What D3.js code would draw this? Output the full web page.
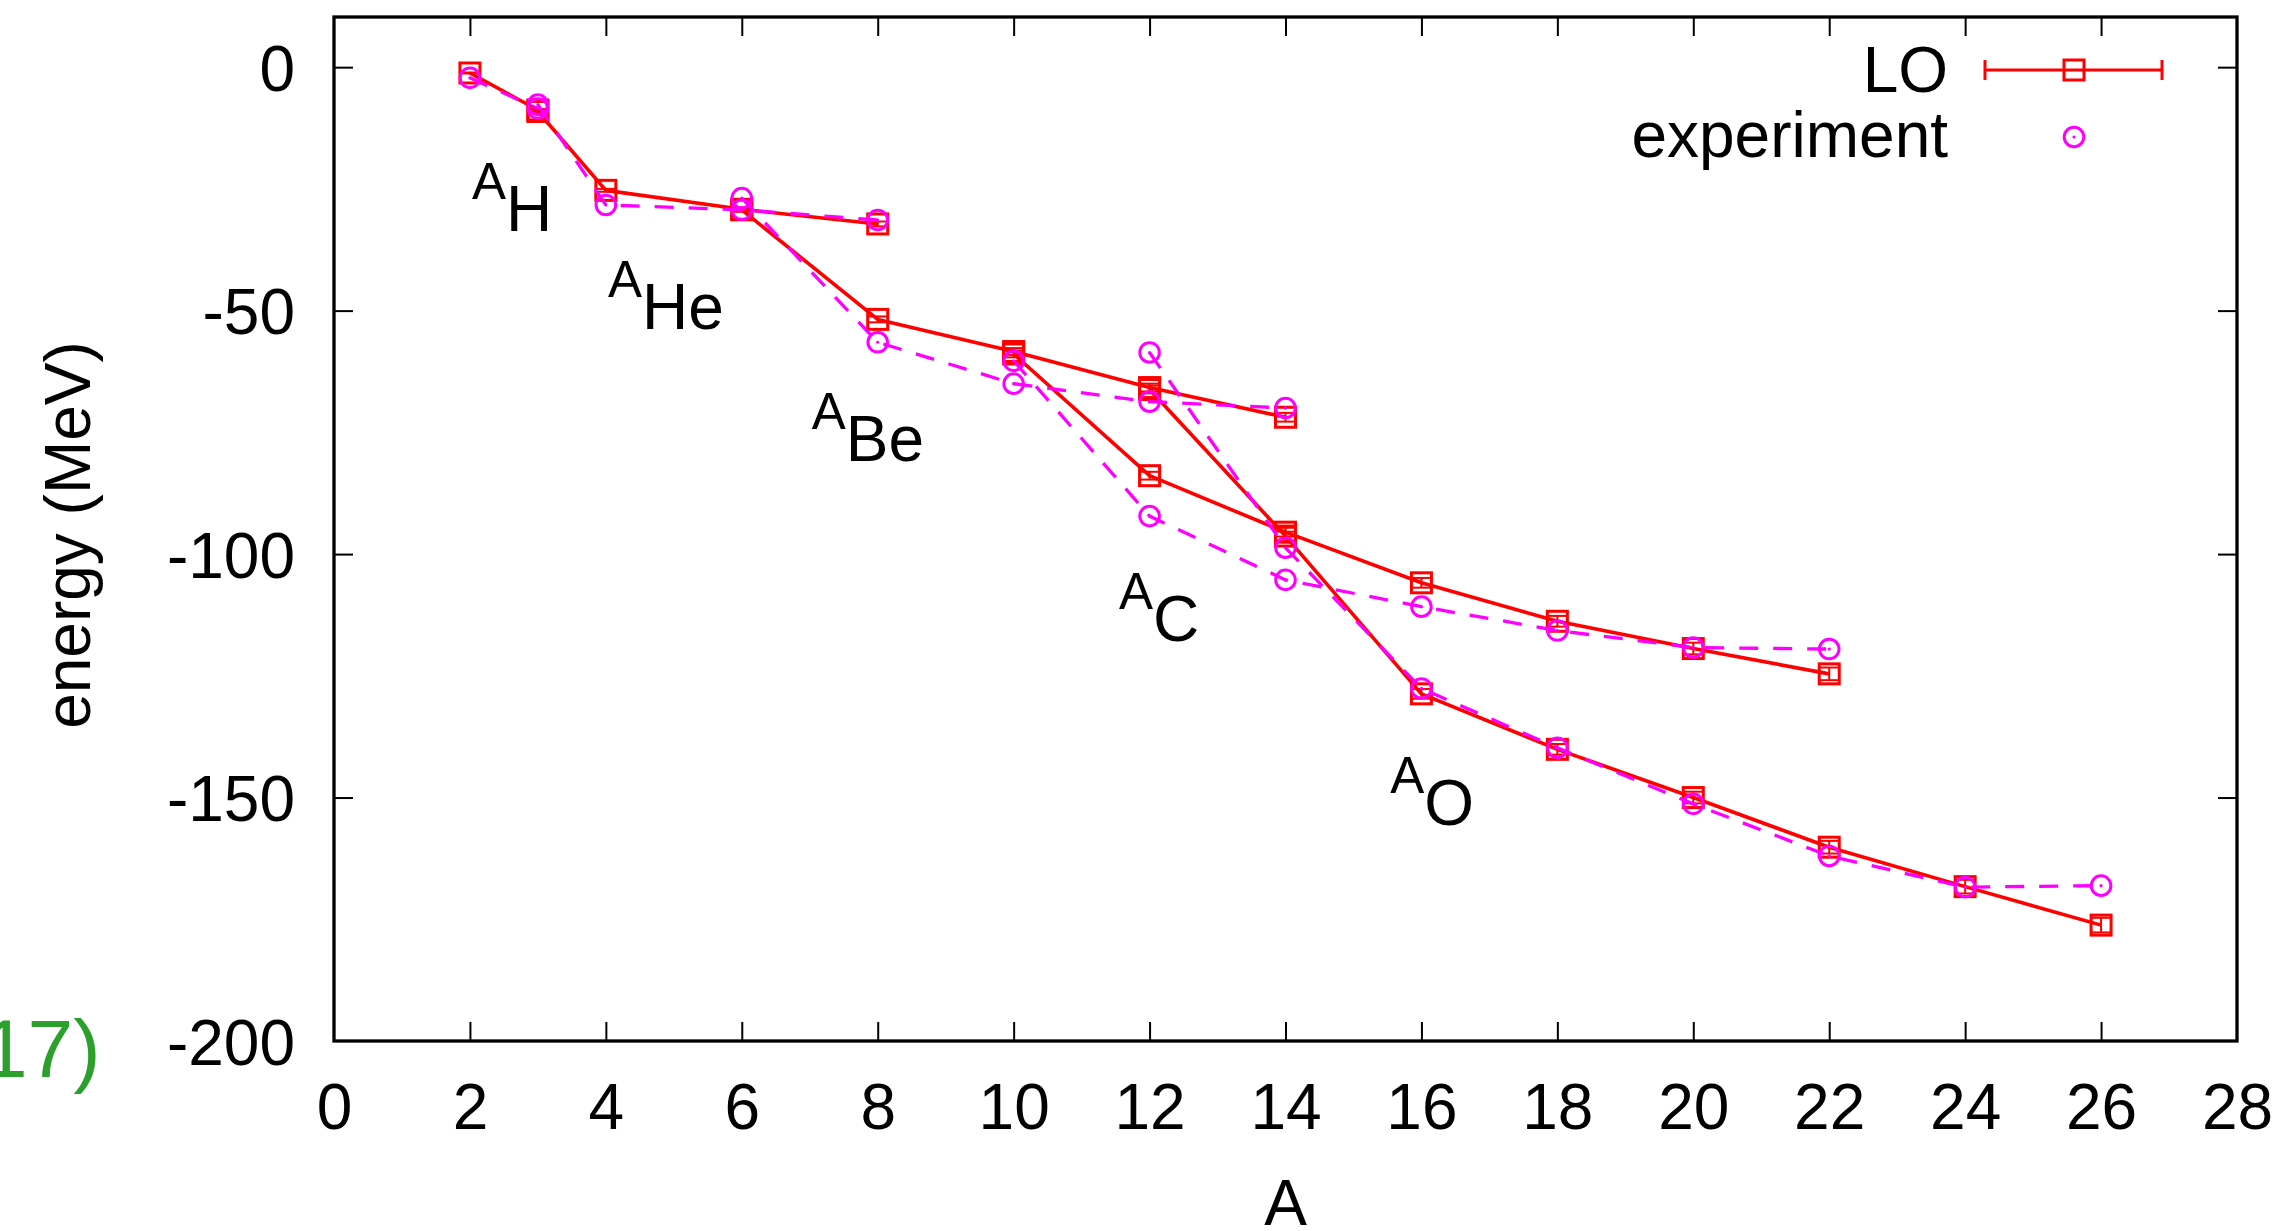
<!DOCTYPE html>
<html>
<head>
<meta charset="utf-8">
<script src="https://cdn.jsdelivr.net/npm/d3@7"></script>
<style>
  html, body { margin: 0; padding: 0; background: #fff; }
  svg { display: block; font-family: "Liberation Sans", Arial, Helvetica, sans-serif; }
</style>
</head>
<body>
<svg id="chart" width="2280" height="1231"></svg>
<script>
// Isotope chains: mass number A and ground-state energies (MeV)
const chainNames = ["H", "He", "Be", "C", "O"];
const chainMass = [
  [2, 3],
  [3, 4, 6, 8],
  [6, 8, 10, 12, 14],
  [10, 12, 14, 16, 18, 20, 22],
  [12, 14, 16, 18, 20, 22, 24, 26]
];
// Lattice results at leading order
const loEnergy = [
  [-1.2, -8.8],
  [-9.1, -25.3, -29.2, -32.2],
  [-29.3, -51.8, -58.4, -65.8, -71.9],
  [-58.9, -83.9, -95.5, -105.9, -113.8, -119.4, -124.6],
  [-66.2, -96.3, -128.7, -140.1, -150.0, -160.2, -168.3, -176.2]
];
const loError = [
  [0.1, 0.2],
  [0.2, 0.3, 0.4, 0.5],
  [0.4, 0.6, 0.7, 0.8, 0.9],
  [0.7, 0.8, 0.9, 1.0, 1.1, 1.2, 1.3],
  [0.8, 0.9, 1.0, 1.1, 1.2, 1.3, 1.4, 1.5]
];
// Measured binding energies
const expEnergy = [
  [-2.2, -8.5],
  [-7.7, -28.3, -29.3, -31.4],
  [-26.9, -56.5, -65.0, -68.7, -70.0],
  [-60.3, -92.2, -105.3, -110.8, -115.7, -119.2, -119.5],
  [-58.6, -98.7, -127.6, -139.8, -151.3, -162.0, -168.4, -168.1]
];
const xTickValues = [0, 2, 4, 6, 8, 10, 12, 14, 16, 18, 20, 22, 24, 26, 28];
const yTickValues = [0, -50, -100, -150, -200];
const yTickLabels = ["0", "-50", "-100", "-150", "-200"];
const seriesNames = ["LO", "experiment"];

// Layout
const frame = { left: 334, right: 2237, top: 17, bottom: 1041 };
const tickLen = 19;
const fontSize = 64;
const supSize = 51;
const redColor = "#ff0000";
const magenta = "#ff00ff";
// chain label anchors in data coordinates (A, energy)
const labelAnchor = [[2.03, -33.6], [4.03, -53.7], [7.03, -80.8], [11.55, -117.9], [15.54, -155.7]];

const svg = d3.select("#chart");

const x = d3.scaleLinear().domain([0, 28]).range([frame.left, frame.right]);
const y = d3.scaleLinear().domain([-200, 10.3]).range([frame.bottom, frame.top]);

// Axes with inward ticks on all four sides
const gB = svg.append("g").attr("transform", `translate(0,${frame.bottom})`)
  .call(d3.axisBottom(x).tickValues(xTickValues).tickSize(-tickLen).tickSizeOuter(0).tickFormat(d => String(d)));
const gT = svg.append("g").attr("transform", `translate(0,${frame.top})`)
  .call(d3.axisTop(x).tickValues(xTickValues).tickSize(-tickLen).tickSizeOuter(0).tickFormat(""));
const gL = svg.append("g").attr("transform", `translate(${frame.left},0)`)
  .call(d3.axisLeft(y).tickValues(yTickValues).tickSize(-tickLen).tickSizeOuter(0)
    .tickFormat((d, i) => yTickLabels[i]));
const gR = svg.append("g").attr("transform", `translate(${frame.right},0)`)
  .call(d3.axisRight(y).tickValues(yTickValues).tickSize(-tickLen).tickSizeOuter(0).tickFormat(""));

[gB, gT, gL, gR].forEach(g => {
  g.select(".domain").remove();
  g.selectAll(".tick line").attr("stroke", "#000").attr("stroke-width", 2);
  g.selectAll(".tick text").attr("fill", "#000").attr("font-size", fontSize)
    .attr("font-family", "'Liberation Sans', Arial, Helvetica, sans-serif");
});
gB.selectAll(".tick text").attr("y", 88).attr("dy", null);
gL.selectAll(".tick text").attr("x", -39).attr("dy", "0.36em");
// hide the tick marks that coincide with the frame corners
gB.selectAll(".tick").filter(d => d === 0 || d === 28).select("line").remove();
gT.selectAll(".tick").filter(d => d === 0 || d === 28).select("line").remove();
gL.selectAll(".tick").filter(d => d === -200).select("line").remove();
gR.selectAll(".tick").filter(d => d === -200).select("line").remove();

// Plot frame
svg.append("rect")
  .attr("x", frame.left).attr("y", frame.top)
  .attr("width", frame.right - frame.left).attr("height", frame.bottom - frame.top)
  .attr("fill", "none").attr("stroke", "#000").attr("stroke-width", 3.3);

// Axis titles
svg.append("text")
  .attr("x", (frame.left + frame.right) / 2).attr("y", 1225)
  .attr("text-anchor", "middle").attr("font-size", fontSize).text("A");
svg.append("text")
  .attr("transform", `translate(90,535) rotate(-90)`)
  .attr("text-anchor", "middle").attr("font-size", fontSize).text("energy (MeV)");

// Fragment of a neighbouring caption on the left margin
svg.append("text")
  .attr("x", -18).attr("y", 1077).attr("font-size", 82).attr("fill", "#2ca02c").text("17)");

// Chain labels  ^A X
chainNames.forEach((name, i) => {
  const t = svg.append("text")
    .attr("x", x(labelAnchor[i][0])).attr("y", y(labelAnchor[i][1]))
    .attr("fill", "#000");
  t.append("tspan").attr("font-size", supSize).attr("dy", -32).text("A");
  t.append("tspan").attr("font-size", fontSize).attr("dy", 32).text(name);
});

const line = d3.line().x(d => x(d[0])).y(d => y(d[1]));
const plot = svg.append("g");

const sq = 20, capW = 20, circR = 9.8;

// Leading-order chains: solid lines, squares, error bars
chainMass.forEach((masses, i) => {
  const pts = masses.map((a, j) => [a, loEnergy[i][j], loError[i][j]]);
  plot.append("path").datum(pts).attr("d", line)
    .attr("fill", "none").attr("stroke", redColor).attr("stroke-width", 3.6)
    .attr("stroke-linejoin", "round");
  const g = plot.append("g").selectAll("g").data(pts).join("g");
  g.append("rect")
    .attr("x", d => x(d[0]) - sq / 2).attr("y", d => y(d[1]) - sq / 2)
    .attr("width", sq).attr("height", sq)
    .attr("fill", "none").attr("stroke", redColor).attr("stroke-width", 3);
  g.append("line")
    .attr("x1", d => x(d[0])).attr("x2", d => x(d[0]))
    .attr("y1", d => y(d[1] + d[2])).attr("y2", d => y(d[1] - d[2]))
    .attr("stroke", redColor).attr("stroke-width", 2);
  [1, -1].forEach(s => {
    g.append("line")
      .attr("x1", d => x(d[0]) - capW / 2).attr("x2", d => x(d[0]) + capW / 2)
      .attr("y1", d => y(d[1] + s * d[2])).attr("y2", d => y(d[1] + s * d[2]))
      .attr("stroke", redColor).attr("stroke-width", 2);
  });
});

// Experimental chains: dashed lines and dotted circles
chainMass.forEach((masses, i) => {
  const pts = masses.map((a, j) => [a, expEnergy[i][j]]);
  plot.append("path").datum(pts).attr("d", line)
    .attr("fill", "none").attr("stroke", magenta).attr("stroke-width", 3.3)
    .attr("stroke-dasharray", "19,15");
  const g = plot.append("g").selectAll("g").data(pts).join("g");
  g.append("circle")
    .attr("cx", d => x(d[0])).attr("cy", d => y(d[1])).attr("r", circR)
    .attr("fill", "none").attr("stroke", magenta).attr("stroke-width", 3);
  g.append("circle")
    .attr("cx", d => x(d[0])).attr("cy", d => y(d[1])).attr("r", 1.6)
    .attr("fill", magenta);
});

// Legend
const legend = svg.append("g");
const keyX0 = 1985, keyX1 = 2162, keyXc = 2074;
legend.append("text").attr("x", 1948).attr("y", 92).attr("text-anchor", "end")
  .attr("font-size", fontSize).text(seriesNames[0]);
legend.append("text").attr("x", 1948).attr("y", 157).attr("text-anchor", "end")
  .attr("font-size", fontSize).text(seriesNames[1]);
legend.append("line").attr("x1", keyX0).attr("x2", keyX1).attr("y1", 70).attr("y2", 70)
  .attr("stroke", redColor).attr("stroke-width", 3);
[keyX0, keyX1].forEach(cx => legend.append("line")
  .attr("x1", cx).attr("x2", cx).attr("y1", 60).attr("y2", 80)
  .attr("stroke", redColor).attr("stroke-width", 3));
legend.append("rect").attr("x", keyXc - sq / 2).attr("y", 70 - sq / 2)
  .attr("width", sq).attr("height", sq).attr("fill", "none")
  .attr("stroke", redColor).attr("stroke-width", 3);
legend.append("circle").attr("cx", keyXc).attr("cy", 137).attr("r", circR)
  .attr("fill", "none").attr("stroke", magenta).attr("stroke-width", 3);
legend.append("circle").attr("cx", keyXc).attr("cy", 137).attr("r", 1.6).attr("fill", magenta);
</script>
</body>
</html>
